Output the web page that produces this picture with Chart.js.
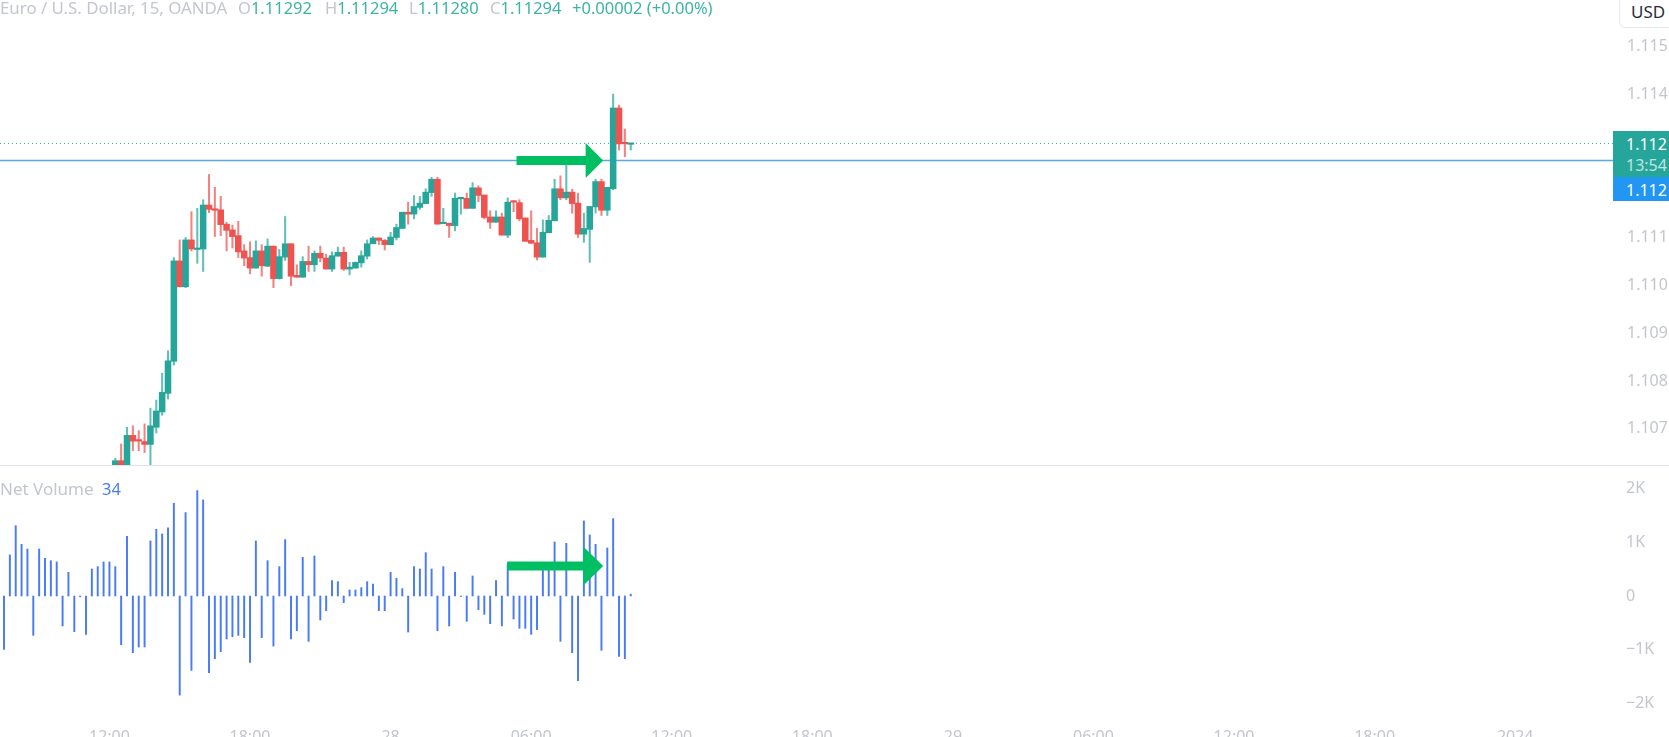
<!DOCTYPE html>
<html>
<head>
<meta charset="utf-8">
<title>EUR/USD 15</title>
<script src="https://cdn.jsdelivr.net/npm/chart.js@4/dist/chart.umd.min.js"></script>
<style>
html, body { margin: 0; padding: 0; background: #fff; overflow: hidden; width: 1669px; height: 737px; }
body { position: relative; font-family: "Noto Sans", sans-serif; }
canvas { position: absolute; left: 0; }
#priceCanvas { top: 0; }
#volumeCanvas { top: 465px; }
#sep { position: absolute; left: 0; top: 465px; width: 1669px; height: 1px; background: #e0e3eb; }
.t { position: absolute; font-size: 16.5px; line-height: 18px; white-space: nowrap; }
.g { color: #c3c6cf; }
.v { color: #3cb4a6; }
#usd { position: absolute; left: 1619px; top: -6px; width: 60px; height: 34px; box-sizing: border-box; border: 1px solid #e6e8ee; border-radius: 6px; background: #fff; color: #2a2e39; font-size: 17px; line-height: 34px; padding-left: 11px; }
.box { position: absolute; left: 1613px; width: 56px; color: #fff; font-size: 16px; padding: 2.5px 0 0 13px; box-sizing: border-box; line-height: 21px; }
</style>
</head>
<body>
<canvas id="priceCanvas" width="1669" height="465"></canvas>
<canvas id="volumeCanvas" width="1669" height="300"></canvas>
<div id="sep"></div>

<div class="t g" style="left:0;top:-1px;font-size:16.85px">Euro / U.S. Dollar, 15, OANDA</div>
<div class="t" style="left:238px;top:-1px"><span class="g">O</span><span class="v">1.11292</span></div>
<div class="t" style="left:325px;top:-1px"><span class="g">H</span><span class="v">1.11294</span></div>
<div class="t" style="left:409px;top:-1px"><span class="g">L</span><span class="v">1.11280</span></div>
<div class="t" style="left:490px;top:-1px"><span class="g">C</span><span class="v">1.11294</span></div>
<div class="t v" style="left:572px;top:-1px">+0.00002 (+0.00%)</div>
<div class="t g" style="left:0;top:480px;font-size:17px">Net Volume</div>
<div class="t" style="left:102px;top:480px;color:#4a7bf7">34</div>

<div id="usd">USD</div>
<div class="box" style="top:131px;height:46px;background:#26a69a">1.112<br><span style="opacity:.7">13:54</span></div>
<div class="box" style="top:177px;height:24px;background:#2196f3">1.112</div>

<script>
// first candle that reaches above the pane's lower edge
var firstCandle = 19;

var opens = [1.10617,1.10630,1.10617,1.10683,1.10674,1.10670,1.10664,1.10700,1.10732,1.10771,
  1.10838,1.11048,1.10994,1.11092,1.11072,1.11073,1.11165,1.11157,1.11155,1.11125,
  1.11113,1.11101,1.11069,1.11055,1.11033,1.11069,1.11037,1.11079,1.11011,1.11056,
  1.11084,1.11018,1.11014,1.11047,1.11040,1.11064,1.11054,1.11031,1.11058,1.11066,
  1.11031,1.11033,1.11044,1.11058,1.11084,1.11096,1.11091,1.11082,1.11097,1.11116,
  1.11150,1.11146,1.11160,1.11168,1.11191,1.11219,1.11126,1.11127,1.11122,1.11178,
  1.11179,1.11158,1.11201,1.11186,1.11140,1.11129,1.11140,1.11102,1.11173,1.11170,
  1.11138,1.11091,1.11086,1.11056,1.11107,1.11132,1.11199,1.11180,1.11192,1.11169,
  1.11104,1.11114,1.11161,1.11214,1.11154,1.11199,1.11368,1.11295,1.11292];
var highs = [1.10635,1.10665,1.10700,1.10703,1.10693,1.10707,1.10740,1.10757,1.10813,1.10860,
  1.11055,1.11092,1.11097,1.11151,1.11158,1.11176,1.11229,1.11202,1.11183,1.11129,
  1.11123,1.11131,1.11082,1.11088,1.11090,1.11082,1.11094,1.11079,1.11072,1.11141,
  1.11084,1.11040,1.11057,1.11079,1.11069,1.11079,1.11062,1.11067,1.11077,1.11077,
  1.11045,1.11046,1.11069,1.11092,1.11099,1.11096,1.11093,1.11108,1.11125,1.11150,
  1.11171,1.11185,1.11183,1.11199,1.11223,1.11223,1.11158,1.11127,1.11190,1.11180,
  1.11190,1.11212,1.11205,1.11186,1.11153,1.11153,1.11148,1.11180,1.11174,1.11176,
  1.11138,1.11153,1.11116,1.11134,1.11143,1.11219,1.11226,1.11250,1.11198,1.11190,
  1.11148,1.11162,1.11219,1.11219,1.11202,1.11397,1.11374,1.11324,1.11294];
var lows = [1.10611,1.10611,1.10613,1.10651,1.10651,1.10647,1.10611,1.10688,1.10725,1.10759,
  1.10830,1.10994,1.10992,1.11069,1.11043,1.11026,1.11149,1.11099,1.11101,1.11069,
  1.11075,1.11055,1.11038,1.11021,1.11033,1.11016,1.11036,1.10992,1.11010,1.11049,
  1.10996,1.11014,1.11014,1.11026,1.11026,1.11046,1.11031,1.11026,1.11058,1.11028,
  1.11019,1.11033,1.11035,1.11052,1.11084,1.11082,1.11071,1.11082,1.11092,1.11116,
  1.11125,1.11136,1.11156,1.11168,1.11183,1.11125,1.11126,1.11097,1.11111,1.11146,
  1.11158,1.11158,1.11172,1.11136,1.11116,1.11129,1.11102,1.11097,1.11151,1.11132,
  1.11089,1.11085,1.11050,1.11056,1.11107,1.11132,1.11176,1.11176,1.11148,1.11097,
  1.11087,1.11045,1.11148,1.11143,1.11143,1.11197,1.11280,1.11266,1.11280];
var closes = [1.10630,1.10617,1.10683,1.10671,1.10671,1.10664,1.10703,1.10734,1.10773,1.10839,
  1.11048,1.10994,1.11092,1.11073,1.11075,1.11165,1.11156,1.11154,1.11124,1.11112,
  1.11099,1.11067,1.11054,1.11033,1.11069,1.11038,1.11079,1.11011,1.11057,1.11084,
  1.11016,1.11014,1.11047,1.11040,1.11064,1.11054,1.11031,1.11059,1.11066,1.11031,
  1.11035,1.11045,1.11059,1.11084,1.11096,1.11091,1.11082,1.11098,1.11118,1.11150,
  1.11146,1.11162,1.11169,1.11192,1.11219,1.11125,1.11128,1.11122,1.11179,1.11180,
  1.11158,1.11201,1.11185,1.11139,1.11129,1.11140,1.11102,1.11171,1.11171,1.11136,
  1.11089,1.11085,1.11056,1.11108,1.11133,1.11199,1.11180,1.11192,1.11168,1.11104,
  1.11116,1.11162,1.11214,1.11154,1.11202,1.11368,1.11293,1.11293,1.11294];

var netVolume = [-995,765,1310,963,876,-733,876,702,658,634,-559,441,-665,-15,-714,503,547,634,634,547,
  -907,1112,-1056,-950,-950,1025,1242,1155,1267,1727,-1845,1553,-1385,1963,1789,-1429,-1168,-1037,-801,-758,
  -733,-776,-1236,1025,-776,658,-932,547,1050,-801,-646,720,-845,745,-447,-273,286,267,-124,112,
  112,155,267,224,-273,-273,441,329,137,-671,547,503,807,503,-646,547,-559,441,-10,-472,
  373,-255,-342,-516,286,-559,600,-429,-602,-602,-714,-627,497,497,1006,-845,981,-1056,-1578,1398,
  1137,963,-1012,894,1441,-1124,-1168,34];

var timeTickBars = [18,42,66,90,114,138,162,186,210,234,258];
var timeTickLabels = ["12:00","18:00","28","06:00","12:00","18:00","29","06:00","12:00","18:00","2024"];
var priceTicks = [1.107,1.108,1.109,1.110,1.111,1.114,1.115];
var volumeTicks = [2000,1000,0,-1000,-2000];
var volumeTickLabels = ["2K","1K","0","\u22121K","\u22122K"];

var lastPrice = 1.11294;
var markedLevel = 1.11258;

var upColor = "#26a69a";
var downColor = "#ef5350";
var upWick = "rgba(38,166,154,0.72)";
var downWick = "rgba(239,83,80,0.72)";
var arrowColor = "#00bf63";
var xMin = -0.683, xMax = 274.7;
var axisWidth = 56;

// keep the plot flush with the canvas edges and the axis a fixed width
function fixWidth(scale) {
  scale.width = axisWidth;
  scale.paddingTop = 0;
  scale.paddingBottom = 0;
}
function setTicks(values) {
  return function (scale) { scale.ticks = values.map(function (v) { return { value: v }; }); };
}

var bodies = [], wicks = [], candleColors = [], wickColors = [];
for (var i = 0; i < opens.length; i++) {
  var barX = firstCandle + i;
  var up = closes[i] >= opens[i];
  bodies.push({ x: barX, y: [opens[i], closes[i]] });
  wicks.push({ x: barX, y: [lows[i], highs[i]] });
  candleColors.push(up ? upColor : downColor);
  wickColors.push(up ? upWick : downWick);
}

// arrow drawn on top of the marks, placed with the chart's own scales
function arrowPlugin(yScaleId, fromBar, baseBar, tipBar, level, shaftHalf, headHalf) {
  return {
    id: "arrow",
    afterDatasetsDraw: function (chart) {
      var c = chart.ctx, x = chart.scales.x, y = chart.scales[yScaleId].getPixelForValue(level);
      var x0 = x.getPixelForValue(fromBar), x1 = x.getPixelForValue(baseBar), x2 = x.getPixelForValue(tipBar);
      c.save();
      c.fillStyle = arrowColor;
      c.beginPath();
      c.moveTo(x0, y - shaftHalf);
      c.lineTo(x1, y - shaftHalf);
      c.lineTo(x1, y - headHalf);
      c.lineTo(x2, y);
      c.lineTo(x1, y + headHalf);
      c.lineTo(x1, y + shaftHalf);
      c.lineTo(x0, y + shaftHalf);
      c.closePath();
      c.fill();
      c.restore();
    }
  };
}

Chart.defaults.font.family = '"Noto Sans", sans-serif';
Chart.defaults.font.size = 16;
Chart.defaults.color = "#c3c6cf";

var priceChart = new Chart(document.getElementById("priceCanvas"), {
  type: "bar",
  data: {
    datasets: [
      { type: "line", data: [{ x: xMin, y: lastPrice }, { x: xMax, y: lastPrice }], borderColor: upColor, borderWidth: 1, borderDash: [1, 3], pointRadius: 0, order: 4 },
      { type: "line", data: [{ x: xMin, y: markedLevel }, { x: xMax, y: markedLevel }], borderColor: "#5aa9e6", borderWidth: 1.5, pointRadius: 0, order: 3 },
      { data: wicks, backgroundColor: wickColors, barThickness: 1.4, grouped: false, order: 2 },
      { data: bodies, backgroundColor: candleColors, barThickness: 5.9, minBarLength: 1.5, grouped: false, order: 1 }
    ]
  },
  options: {
    responsive: false,
    animation: false,
    devicePixelRatio: 1,
    layout: { padding: 0 },
    plugins: { legend: { display: false }, tooltip: { enabled: false } },
    scales: {
      x: { type: "linear", min: xMin, max: xMax, offset: false, display: false },
      y: {
        position: "right", min: 1.10621, max: 1.11594,
        grid: { display: false, drawTicks: false }, border: { display: false },
        afterBuildTicks: setTicks(priceTicks),
        afterFit: fixWidth,
        ticks: { padding: 14, labelOffset: 1.5, callback: function (v) { return v.toFixed(3); } }
      }
    }
  },
  plugins: [arrowPlugin("y", 87.5, 99.3, 102.3, markedLevel, 4.5, 17.5)]
});

var volumeChart = new Chart(document.getElementById("volumeCanvas"), {
  type: "bar",
  data: {
    datasets: [{
      data: netVolume.map(function (v, bar) { return { x: bar, y: v }; }),
      backgroundColor: "#4a7bf7",
      barThickness: 1.3
    }]
  },
  options: {
    responsive: false,
    animation: false,
    devicePixelRatio: 1,
    layout: { padding: 0 },
    plugins: { legend: { display: false }, tooltip: { enabled: false } },
    scales: {
      x: {
        type: "linear", min: xMin, max: xMax, offset: false,
        grid: { display: false, drawTicks: false }, border: { display: false },
        afterBuildTicks: setTicks(timeTickBars),
        afterFit: function (scale) { scale.height = 43; },
        ticks: { autoSkip: false, maxRotation: 0, padding: 6, callback: function (v, idx) { return timeTickLabels[idx]; } }
      },
      y: {
        position: "right", min: -2346, max: 2439,
        grid: { display: false, drawTicks: false }, border: { display: false },
        afterBuildTicks: setTicks(volumeTicks),
        afterFit: fixWidth,
        ticks: { padding: 13, callback: function (v, idx) { return volumeTickLabels[idx]; } }
      }
    }
  },
  plugins: [arrowPlugin("y", 85.9, 98.9, 102.3, 559, 4.5, 19.5)]
});
</script>
</body>
</html>
